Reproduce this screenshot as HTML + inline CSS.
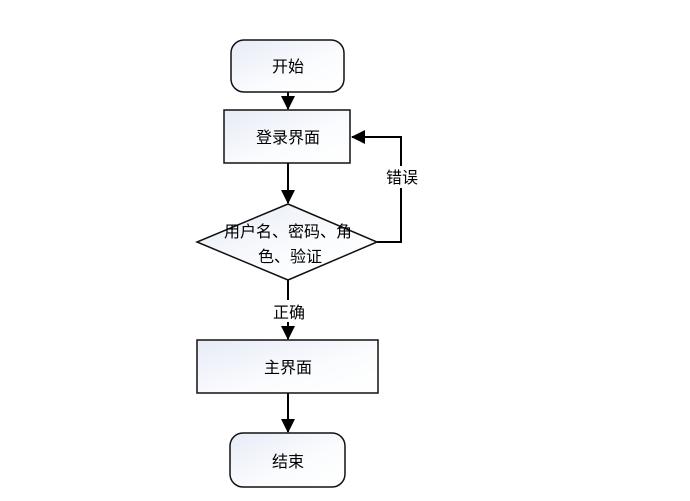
<!DOCTYPE html>
<html><head><meta charset="utf-8"><style>
body{margin:0;background:#fff;}
svg text{font-family:"Liberation Sans","Noto Sans CJK SC",sans-serif;font-size:16px;fill:#000;}
</style></head><body>
<svg width="690" height="496" xmlns="http://www.w3.org/2000/svg">
<defs>
<linearGradient id="g" x1="0" y1="0" x2="1" y2="1"><stop offset="0" stop-color="#e6ebf6"/><stop offset="0.6" stop-color="#fbfcfe"/><stop offset="1" stop-color="#fff"/></linearGradient>
<marker id="a" markerWidth="14" markerHeight="14" refX="13" refY="7" orient="auto" markerUnits="userSpaceOnUse"><path d="M0,0 L14,7 L0,14 z" fill="#000"/></marker>
</defs>
<g stroke="#000" stroke-width="2" fill="none">
<line x1="288" y1="92" x2="288" y2="109" marker-end="url(#a)"/>
<line x1="288" y1="163" x2="288" y2="203" marker-end="url(#a)"/>
<polyline points="377,242 401,242 401,137 352,137" marker-end="url(#a)"/>
<line x1="288" y1="280" x2="288" y2="339" marker-end="url(#a)"/>
<line x1="288" y1="393" x2="288" y2="432" marker-end="url(#a)"/>
</g>
<g stroke="#111" stroke-width="1.5" fill="url(#g)">
<rect x="231" y="40" width="113" height="52" rx="13"/>
<rect x="224" y="110" width="126" height="53"/>
<polygon points="288,204 377,242 288,280 197,242"/>
<rect x="197" y="340" width="181" height="53"/>
<rect x="230" y="433" width="115" height="54" rx="13"/>
</g>
<rect x="384" y="166" width="36" height="22" fill="#fff"/>
<rect x="268" y="300" width="40" height="22" fill="#fff"/>
<text x="288" y="72" text-anchor="middle">开始</text>
<text x="288" y="143" text-anchor="middle">登录界面</text>
<text x="288" y="237" text-anchor="middle">用户名、密码、角</text>
<text x="290" y="262" text-anchor="middle">色、验证</text>
<text x="402" y="183" text-anchor="middle">错误</text>
<text x="289" y="318" text-anchor="middle">正确</text>
<text x="288" y="373" text-anchor="middle">主界面</text>
<text x="288" y="467" text-anchor="middle">结束</text>
</svg>
</body></html>
